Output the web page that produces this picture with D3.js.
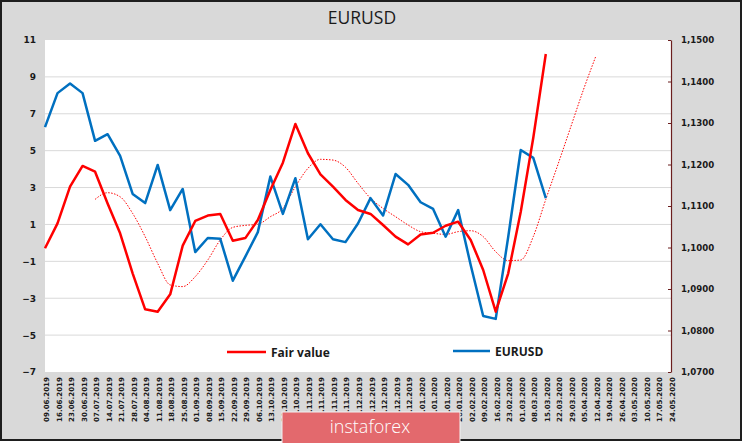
<!DOCTYPE html>
<html>
<head>
<meta charset="utf-8">
<script src="https://cdn.jsdelivr.net/npm/d3@7"></script>
<style>
  html, body { margin: 0; padding: 0; background: #fff; }
  svg { display: block; }
</style>
</head>
<body>
<svg id="chart" width="742" height="443"></svg>
<script>
// ---- data ----
const dates = ["09.06.2019","16.06.2019","23.06.2019","30.06.2019","07.07.2019","14.07.2019","21.07.2019","28.07.2019",
  "04.08.2019","11.08.2019","18.08.2019","25.08.2019","01.09.2019","08.09.2019","15.09.2019","22.09.2019","29.09.2019",
  "06.10.2019","13.10.2019","20.10.2019","27.10.2019","03.11.2019","10.11.2019","17.11.2019","24.11.2019",
  "01.12.2019","08.12.2019","15.12.2019","22.12.2019","29.12.2019","05.01.2020","12.01.2020","19.01.2020","26.01.2020",
  "02.02.2020","09.02.2020","16.02.2020","23.02.2020","01.03.2020","08.03.2020","15.03.2020","22.03.2020","29.03.2020",
  "05.04.2020","12.04.2020","19.04.2020","26.04.2020","03.05.2020","10.05.2020","17.05.2020","24.05.2020"];

const fairValue = [-0.29, 1.06, 3.05, 4.17, 3.86, 2.14, 0.52, -1.65, -3.6, -3.73, -2.79, -0.15, 1.19, 1.48, 1.57,
  0.12, 0.26, 1.24, 2.87, 4.35, 6.45, 4.86, 3.72, 3.05, 2.33, 1.78, 1.57, 0.97, 0.34, -0.08, 0.46, 0.55, 0.93, 1.15,
  0.16, -1.47, -3.73, -1.65, 1.69, 5.7, 10.24];

const eurusd = [1.1290, 1.1372, 1.1395, 1.1372, 1.1257, 1.1273, 1.1221, 1.1129, 1.1107, 1.1199, 1.1090, 1.1141,
  1.0989, 1.1023, 1.1021, 1.0920, 1.0978, 1.1037, 1.1171, 1.1081, 1.1167, 1.1020, 1.1056, 1.1020, 1.1013, 1.1058,
  1.1119, 1.1077, 1.1177, 1.1151, 1.1109, 1.1093, 1.1026, 1.1090, 1.0958, 1.0835, 1.0828, 1.1026, 1.1235, 1.1216, 1.1119];

// dotted shifted fair-value trend, starts at index 4 (07.07.2019)
const trendOffset = 4;
const fairTrend = [2.36, 2.72, 2.5, 1.6, 0.34, -1.11, -2.28, -2.37, -1.83, -0.93, 0.16, 0.84, 0.95, 1.01, 1.42, 1.87,
  3.05, 4.04, 4.53, 4.49, 4.1, 3.23, 2.42, 1.87, 1.42, 0.97, 0.61, 0.52, 0.46, 0.61, 0.66, 0.34, -0.48, -0.96, -0.93,
  0.34, 2.36, 4.31, 6.3, 8.29, 10.13];

const leftTicks = [11, 9, 7, 5, 3, 1, -1, -3, -5, -7];
const rightTicks = [1.15, 1.14, 1.13, 1.12, 1.11, 1.10, 1.09, 1.08, 1.07];

// ---- layout ----
const W = 742, H = 443;
const plot = { left: 45, right: 671, top: 40, bottom: 372 };
const svg = d3.select("#chart");

svg.append("rect").attr("x", 0).attr("y", 0).attr("width", W).attr("height", H).attr("fill", "#ffffff");
svg.append("rect").attr("x", 1).attr("y", 1).attr("width", W - 2).attr("height", 439)
  .attr("fill", "#d9d9d9").attr("stroke", "#1e1e1e").attr("stroke-width", 2);

const x = d3.scalePoint().domain(dates).range([plot.left, plot.right]);
const yL = d3.scaleLinear().domain([-7, 11]).range([plot.bottom, plot.top]);
const yR = d3.scaleLinear().domain([1.07, 1.15]).range([plot.bottom, plot.top]);

// plot area
svg.append("rect").attr("x", plot.left).attr("y", plot.top)
  .attr("width", plot.right - plot.left).attr("height", plot.bottom - plot.top).attr("fill", "#ffffff");

// gridlines
svg.append("g").selectAll("line").data(leftTicks.filter(d => d > -7 && d < 11)).join("line")
  .attr("x1", plot.left).attr("x2", plot.right)
  .attr("y1", d => yL(d)).attr("y2", d => yL(d))
  .attr("stroke", "#d9d9d9").attr("stroke-width", 1);

// title
svg.append("text").attr("x", 362).attr("y", 24).attr("text-anchor", "middle")
  .attr("font-family", "'Open Sans', sans-serif").attr("font-size", 17.5).attr("fill", "#1a1a1a")
  .text("EURUSD");

// left axis labels
const leftAxis = d3.axisLeft(yL).tickValues(leftTicks).tickSize(0).tickPadding(0).tickFormat(d3.format("d"));
const gL = svg.append("g").attr("transform", `translate(36,0)`).call(leftAxis);
gL.select(".domain").remove();
gL.selectAll("text").attr("font-family", "'DejaVu Sans', Verdana, sans-serif").attr("font-weight", "bold")
  .attr("font-size", 9).attr("fill", "#1a1a1a").attr("text-anchor", "end");

// right axis
const rightAxis = d3.axisRight(yR).tickValues(rightTicks).tickSizeInner(-3).tickSizeOuter(0).tickPadding(10)
  .tickFormat(d => d3.format(".4f")(d).replace(".", ","));
const gR = svg.append("g").attr("transform", `translate(${plot.right},0)`).call(rightAxis);
gR.select(".domain").attr("stroke", "#6b1f1f").attr("stroke-width", 1.2);
gR.selectAll(".tick line").attr("stroke", "#6b1f1f");
gR.selectAll("text").attr("font-family", "'DejaVu Sans', Verdana, sans-serif").attr("font-weight", "bold")
  .attr("font-size", 8.6).attr("fill", "#1a1a1a");

// x labels (rotated)
const xAxis = d3.axisBottom(x).tickSize(0).tickPadding(0);
const gX = svg.append("g").attr("transform", `translate(0,${plot.bottom})`).call(xAxis);
gX.select(".domain").remove();
gX.selectAll("text")
  .attr("font-family", "'DejaVu Sans', Verdana, sans-serif").attr("font-weight", "bold")
  .attr("font-size", 7.1).attr("fill", "#1a1a1a")
  .attr("text-anchor", "end")
  .attr("transform", "translate(1,5) rotate(-90)")
  .attr("x", 0).attr("y", 0).attr("dy", "0.35em");

// lines
const fvLine = d3.line().x((d, i) => x(dates[i])).y(d => yL(d));
const trendLine = d3.line().x((d, i) => x(dates[i + trendOffset])).y(d => yL(d)).curve(d3.curveMonotoneX);
const usdLine = d3.line().x((d, i) => x(dates[i])).y(d => yR(d));

svg.append("path").datum(fairTrend).attr("d", trendLine)
  .attr("fill", "none").attr("stroke", "#ff0000").attr("stroke-width", 1).attr("stroke-dasharray", "1.5,1.5");
svg.append("path").datum(eurusd).attr("d", usdLine)
  .attr("fill", "none").attr("stroke", "#0070c0").attr("stroke-width", 2.5).attr("stroke-linejoin", "round");
svg.append("path").datum(fairValue).attr("d", fvLine)
  .attr("fill", "none").attr("stroke", "#ff0000").attr("stroke-width", 2.5).attr("stroke-linejoin", "round");

// legend
const legend = [
  { name: "Fair value", color: "#ff0000", x1: 227, x2: 266, y: 352 },
  { name: "EURUSD", color: "#0070c0", x1: 453, x2: 490, y: 351 }
];
const lg = svg.append("g");
legend.forEach(l => {
  lg.append("line").attr("x1", l.x1).attr("x2", l.x2).attr("y1", l.y).attr("y2", l.y)
    .attr("stroke", l.color).attr("stroke-width", 2.5);
  lg.append("text").attr("x", l.x2 + 5).attr("y", l.y + 4.5)
    .attr("font-family", "'Open Sans', sans-serif").attr("font-weight", "bold").attr("font-size", 12)
    .attr("fill", "#1a1a1a").text(l.name);
});

// watermark
const wm = svg.append("g");
wm.append("rect").attr("x", 282).attr("y", 412).attr("width", 178).attr("height", 40)
  .attr("fill", "#e3696d").attr("stroke", "#f2f2f2").attr("stroke-width", 1);
wm.append("text").attr("x", 370).attr("y", 433).attr("text-anchor", "middle")
  .attr("font-family", "'Open Sans', sans-serif").attr("font-weight", 300).attr("font-size", 18)
  .attr("fill", "#ffffff").text("instaforex");
</script>
</body>
</html>
